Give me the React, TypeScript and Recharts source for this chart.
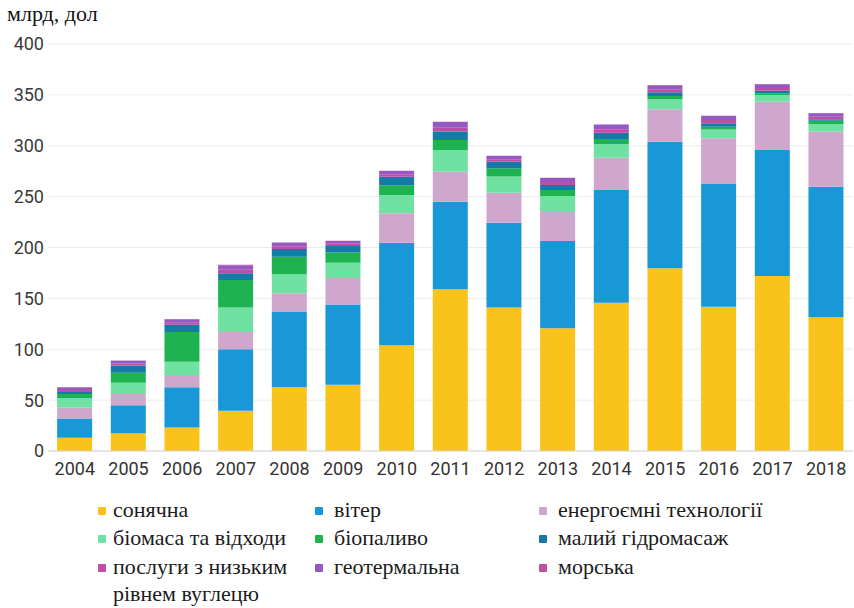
import { BarChart, Bar, XAxis, YAxis, CartesianGrid } from 'recharts'

// Інвестиції у відновлювану енергетику, млрд дол
const years = ['2004', '2005', '2006', '2007', '2008', '2009', '2010', '2011', '2012', '2013', '2014', '2015', '2016', '2017', '2018']

const solar = [13, 17.4, 23, 39.6, 62.6, 65, 104, 159, 141, 120.6, 145.8, 179.5, 141.8, 172, 131.4]
const wind = [19, 27.6, 39.6, 60.4, 74.4, 79, 100.7, 86, 83.4, 85.8, 110.7, 124.5, 120.6, 123.8, 128.4]
const energyTech = [10.5, 11, 12, 17, 18, 26, 29, 29.5, 29.5, 29.5, 31.8, 31.8, 44.9, 47.5, 54]
const biomass = [9.5, 11, 13, 24, 18.6, 15, 18, 21.3, 16, 14.7, 13.4, 9.8, 8.7, 6.7, 7.6]
const biofuel = [4, 10, 29.4, 27, 17.4, 10, 9.4, 9.8, 7.9, 5.9, 4.9, 3.3, 2.7, 1.5, 3.2]
const smallHydro = [2, 7, 7, 6.6, 7.5, 6.5, 8.5, 8.2, 6.5, 4.9, 6.2, 3.6, 3.3, 2.5, 1.4]
const lowCarbon = [2, 2, 2.5, 3.5, 2.8, 2.3, 2.5, 4, 2.5, 3, 3.5, 3, 3.2, 2.8, 2.6]
const geothermal = [2.5, 2.7, 3, 4.5, 3.5, 2.7, 3.2, 5.5, 3.2, 4, 4.5, 4, 4.1, 3.7, 3.3]
const marine = [0.5, 0.3, 0.2, 0.4, 0.2, 0.2, 0.2, 0.3, 0.2, 0.2, 0.2, 0.2, 0.2, 0.2, 0.2]

const yTicks = [0, 50, 100, 150, 200, 250, 300, 350, 400]

const SERIES = [
  { key: 'solar', name: 'сонячна', color: '#f9c31c', values: solar },
  { key: 'wind', name: 'вітер', color: '#1898d6', values: wind },
  { key: 'energyTech', name: 'енергоємні технології', color: '#cfa6cc', values: energyTech },
  { key: 'biomass', name: 'біомаса та відходи', color: '#6fe2a2', values: biomass },
  { key: 'biofuel', name: 'біопаливо', color: '#1eb250', values: biofuel },
  { key: 'smallHydro', name: 'малий гідромасаж', color: '#157aa5', values: smallHydro },
  { key: 'lowCarbon', name: 'послуги з низьким рівнем вуглецю', color: '#bd4da5', values: lowCarbon },
  { key: 'geothermal', name: 'геотермальна', color: '#9459c2', values: geothermal },
  { key: 'marine', name: 'морська', color: '#c04f9c', values: marine },
]

// легенда: три колонки, як в оригіналі
const LEGEND_ORDER = [
  ['solar', 'wind', 'energyTech'],
  ['biomass', 'biofuel', 'smallHydro'],
  ['lowCarbon', 'geothermal', 'marine'],
]
const COL_X = [98, 315, 539]
const ROW_Y = [496, 524, 553]

const data = years.map((y, i) => {
  const row: Record<string, string | number> = { year: y }
  SERIES.forEach(s => { row[s.key] = s.values[i] })
  return row
})

const serif = '"Liberation Serif", "DejaVu Serif", serif'
const sans = 'Roboto, "Noto Sans", sans-serif'

export default function App() {
  return (
    <div style={{ position: 'absolute', left: 0, top: 0, width: 854, height: 608, background: '#fff', overflow: 'hidden' }}>
      <div style={{ position: 'absolute', left: 7, top: 1, fontFamily: serif, fontSize: 22, lineHeight: '26px', color: '#111' }}>
        млрд, дол
      </div>

      <div style={{ position: 'absolute', left: 0, top: 0 }}>
        <BarChart
          width={854}
          height={482}
          data={data}
          margin={{ top: 44, right: 1, left: 0, bottom: 0 }}
          barCategoryGap="17%"
        >
          <CartesianGrid vertical={false} stroke="#ececec" />
          <XAxis
            dataKey="year"
            height={31}
            axisLine={{ stroke: '#d6d6d6' }}
            tickLine={false}
            tickMargin={5}
            tick={{ fontSize: 18, fill: '#333', fontFamily: sans }}
            interval={0}
          />
          <YAxis
            width={48}
            domain={[0, 400]}
            ticks={yTicks}
            axisLine={false}
            tickLine={false}
            tickSize={2}
            tickMargin={2}
            tick={{ fontSize: 18, fill: '#3a3a3a', fontFamily: sans }}
          />
          {SERIES.map(s => (
            <Bar key={s.key} dataKey={s.key} name={s.name} stackId="a" fill={s.color} isAnimationActive={false} />
          ))}
        </BarChart>
      </div>

      {LEGEND_ORDER.map((row, r) =>
        row.map((key, c) => {
          const s = SERIES.find(x => x.key === key)!
          const lines = key === 'lowCarbon' ? ['послуги з низьким', 'рівнем вуглецю'] : [s.name]
          return (
            <div key={key} style={{ position: 'absolute', left: COL_X[c], top: ROW_Y[r], fontFamily: serif, fontSize: 22, lineHeight: '28px', color: '#1c1c1c' }}>
              <span style={{ position: 'absolute', left: 0, top: 11, width: 8, height: 8, borderRadius: 1, background: s.color }} />
              <div style={{ marginLeft: c === 0 ? 15 : 19, whiteSpace: 'nowrap', lineHeight: '27px' }}>
                {lines.map(l => <div key={l}>{l}</div>)}
              </div>
            </div>
          )
        })
      )}
    </div>
  )
}
